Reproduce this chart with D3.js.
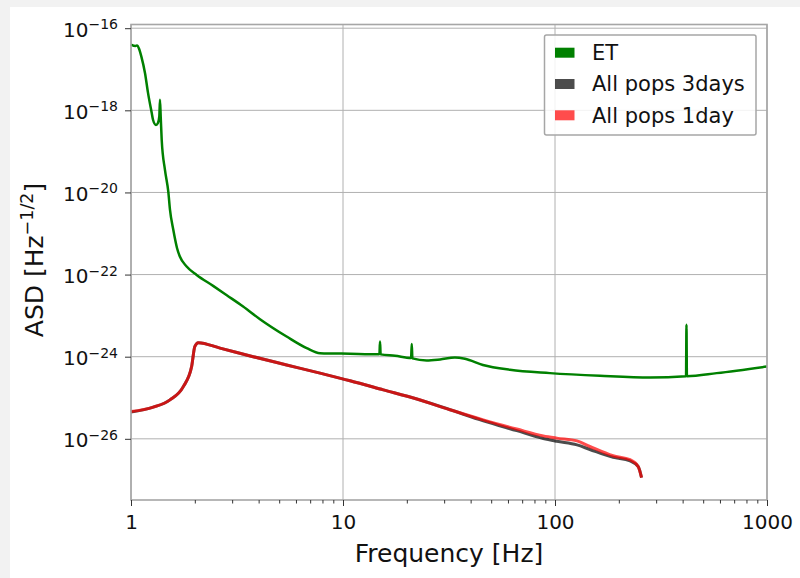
<!DOCTYPE html>
<html lang="en">
<head>
    <meta charset="UTF-8">
    <title>ASD</title>
    <script src="https://d3js.org/d3.v7.min.js"></script>
    <style>
        body { margin: 0; background: #f2f2f2; }
        svg { display: block; font-family: "DejaVu Sans", sans-serif; }
    </style>
</head>
<body>
    <div id="chart"></div>

    <script>
        // ET sensitivity curve
        const etFreq = [1.0, 1.05, 1.07, 1.09, 1.12, 1.164, 1.203, 1.252, 1.27, 1.312, 1.34, 1.36, 1.37, 1.381, 1.396,
            1.446, 1.5, 1.527, 1.583, 1.648, 1.7, 1.83, 2.04, 2.44, 2.83, 3.38, 4.06, 5.42, 6.74, 7.79, 10.8,
            14.85, 14.95, 15.05, 17.6, 20.95, 21.1, 21.25, 24.8, 28.7, 33.7, 37.6, 45.7, 61.3, 94.7, 163, 281,
            415, 417, 419, 579, 1000];
        const etAsd = [4.0e-17, 3.7e-17, 3.8e-17, 3.2e-17, 2.0e-17, 8.1e-18, 2.66e-18, 8.7e-19, 5.9e-19, 4.4e-19, 4.9e-19, 7.1e-19, 1.8e-18, 6.9e-19, 1.9e-19,
            3.55e-20, 1.03e-20, 3.8e-21, 1.23e-21, 4.45e-22, 2.75e-22, 1.57e-22, 9.8e-23, 5.3e-23, 3.14e-23, 1.67e-23, 8.2e-24, 3.1e-24, 1.62e-24, 1.22e-24, 1.18e-24,
            1.15e-24, 2.35e-24, 1.14e-24, 1.05e-24, 9.3e-25, 2.05e-24, 9.1e-25, 8.1e-25, 8.6e-25, 9.6e-25, 8.9e-25, 6.3e-25, 4.8e-25, 3.98e-25, 3.42e-25, 3.1e-25,
            3.36e-25, 6.0e-24, 3.36e-25, 3.98e-25, 5.76e-25];

        // All pops, 3 days
        const pops3Freq = [1.0, 1.274, 1.527, 1.765, 1.932, 2.0, 2.077, 2.63, 3.77, 5.42, 7.79, 10.8, 15.5, 22.3, 32,
            45.9, 66, 88, 102, 127, 146, 188, 226, 247, 256];
        const pops3Asd = [4.5e-26, 5.9e-26, 8.9e-26, 1.87e-25, 5.75e-25, 1.77e-24, 2.2e-24, 1.62e-24, 1.0e-24, 6.3e-25, 3.98e-25, 2.6e-25, 1.56e-25, 9.3e-26, 5.1e-26,
            2.75e-26, 1.58e-26, 1.02e-26, 8.7e-27, 7.1e-27, 5.5e-27, 3.55e-27, 2.9e-27, 2.1e-27, 1.13e-27];

        // All pops, 1 day
        const pops1Freq = [1.0, 1.274, 1.527, 1.765, 1.932, 2.0, 2.077, 2.63, 3.77, 5.42, 7.79, 10.8, 15.5, 22.3, 32,
            45.9, 66, 88, 102, 127, 146, 188, 226, 247, 256];
        const pops1Asd = [4.6e-26, 5.9e-26, 8.9e-26, 1.87e-25, 5.75e-25, 1.77e-24, 2.2e-24, 1.62e-24, 1.0e-24, 6.3e-25, 3.98e-25, 2.6e-25, 1.56e-25, 9.3e-26, 5.1e-26,
            2.9e-26, 1.73e-26, 1.18e-26, 1.04e-26, 8.9e-27, 6.5e-27, 3.86e-27, 3.1e-27, 2.1e-27, 1.13e-27];

        const xTicks = [1, 10, 100, 1000];
        const yTickExp = [-16, -18, -20, -22, -24, -26];
        const legendLabels = ["ET", "All pops 3days", "All pops 1day"];

        const width = 800;
        const height = 578;
        const mLeft = 131, mRight = 767, mTop = 24.5, mBottom = 500;

        const svg = d3.select("#chart")
            .append("svg")
            .attr("width", width)
            .attr("height", height);

        svg.append("rect").attr("x", 10).attr("y", 7)
            .attr("width", width - 10).attr("height", height - 7)
            .attr("fill", "white");

        const x = d3.scaleLog().domain([1, 1000]).range([mLeft, mRight]);
        const y = d3.scaleLog().domain([Math.pow(10, -27.49), Math.pow(10, -15.91)]).range([mBottom, mTop]);

        // grid
        svg.append("g").selectAll("line")
            .data(xTicks)
            .enter().append("line")
            .attr("x1", d => x(d)).attr("x2", d => x(d))
            .attr("y1", mTop).attr("y2", mBottom)
            .attr("stroke", "#b0b0b0").attr("stroke-width", 1);

        svg.append("g").selectAll("line")
            .data(yTickExp)
            .enter().append("line")
            .attr("x1", mLeft).attr("x2", mRight)
            .attr("y1", d => y(Math.pow(10, d))).attr("y2", d => y(Math.pow(10, d)))
            .attr("stroke", "#b0b0b0").attr("stroke-width", 1);

        // curves
        const line = d3.line()
            .x(d => x(d[0]))
            .y(d => y(d[1]))
            .curve(d3.curveMonotoneX);

        const series = [
            { f: etFreq, a: etAsd, color: "#008000", opacity: 1, w: 2.5 },
            { f: pops3Freq, a: pops3Asd, color: "#000000", opacity: 0.7, w: 3 },
            { f: pops1Freq, a: pops1Asd, color: "#ff0000", opacity: 0.7, w: 3 }
        ];

        series.forEach(s => {
            svg.append("path")
                .datum(s.f.map((f, i) => [f, s.a[i]]))
                .attr("fill", "none")
                .attr("stroke", s.color)
                .attr("stroke-opacity", s.opacity)
                .attr("stroke-width", s.w)
                .attr("stroke-linejoin", "round")
                .attr("d", line);
        });

        // spines
        svg.append("rect")
            .attr("x", mLeft).attr("y", mTop)
            .attr("width", mRight - mLeft).attr("height", mBottom - mTop)
            .attr("fill", "none").attr("stroke", "#a6a6a6").attr("stroke-width", 1.6);

        // x axis
        const minorTicks = [];
        [1, 10, 100].forEach(p => { for (let k = 2; k < 10; k++) minorTicks.push(p * k); });

        svg.append("g")
            .attr("transform", `translate(0,${mBottom})`)
            .call(d3.axisBottom(x).tickValues(minorTicks).tickSize(3.5).tickFormat(""))
            .call(g => g.select(".domain").remove())
            .call(g => g.selectAll("line").attr("stroke", "#333"));

        svg.append("g")
            .attr("transform", `translate(0,${mBottom})`)
            .call(d3.axisBottom(x).tickValues(xTicks).tickSize(6).tickPadding(9).tickFormat(d3.format("d")))
            .call(g => g.select(".domain").remove())
            .call(g => g.selectAll("line").attr("stroke", "#333"))
            .call(g => g.selectAll("text").attr("font-size", 20).attr("fill", "#111")
                .attr("font-family", "DejaVu Sans"));

        // y axis
        svg.append("g")
            .attr("transform", `translate(${mLeft},0)`)
            .call(d3.axisLeft(y).tickValues(yTickExp.map(e => Math.pow(10, e))).tickSize(6).tickFormat(""))
            .call(g => g.select(".domain").remove())
            .call(g => g.selectAll("line").attr("stroke", "#333"));

        const yLab = svg.append("g").selectAll("text")
            .data(yTickExp)
            .enter().append("text")
            .attr("x", 118)
            .attr("y", d => y(Math.pow(10, d)) + 8.4)
            .attr("text-anchor", "end")
            .attr("font-size", 20)
            .attr("fill", "#111");
        yLab.append("tspan").text("10");
        yLab.append("tspan").attr("font-size", 14).attr("dy", -7.4).text(d => "\u2212" + Math.abs(d));

        // axis labels
        svg.append("text")
            .attr("x", (mLeft + mRight) / 2)
            .attr("y", 562)
            .attr("text-anchor", "middle")
            .attr("font-size", 25)
            .attr("fill", "#111")
            .text("Frequency [Hz]");

        const yTitle = svg.append("text")
            .attr("transform", `translate(43,260) rotate(-90)`)
            .attr("text-anchor", "middle")
            .attr("font-size", 25)
            .attr("fill", "#111");
        yTitle.append("tspan").text("ASD [Hz");
        yTitle.append("tspan").attr("font-size", 17.5).attr("dy", -10).text("\u22121/2");
        yTitle.append("tspan").attr("dy", 10).text("]");

        // legend
        const legend = svg.append("g");
        legend.append("rect")
            .attr("x", 544.5).attr("y", 35)
            .attr("width", 211.5).attr("height", 100)
            .attr("rx", 2)
            .attr("fill", "white").attr("fill-opacity", 0.85)
            .attr("stroke", "#a6a6a6").attr("stroke-width", 1.5);

        legendLabels.forEach((lab, i) => {
            const yy = 60 + i * 31.3;
            legend.append("rect")
                .attr("x", 555).attr("y", yy - 12.3)
                .attr("width", 19.5).attr("height", 10)
                .attr("fill", series[i].color)
                .attr("fill-opacity", series[i].opacity);
            legend.append("text")
                .attr("x", 592).attr("y", yy)
                .attr("font-size", 21)
                .attr("fill", "#111")
                .text(lab);
        });
    </script>
</body>
</html>
